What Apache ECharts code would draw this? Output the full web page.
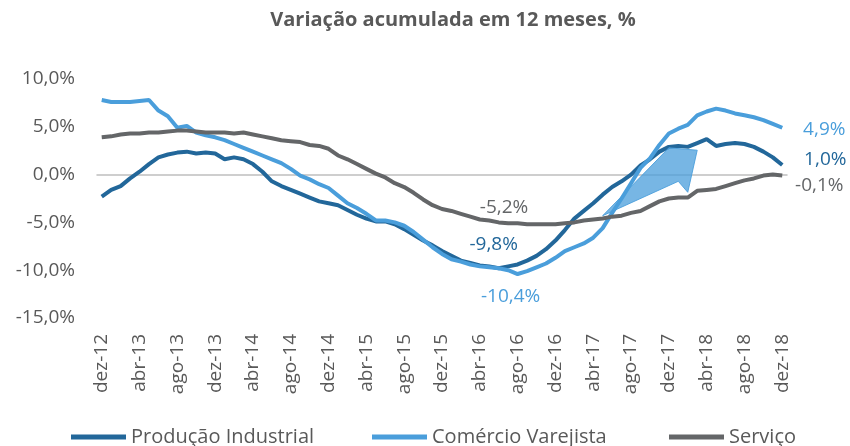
<!DOCTYPE html>
<html>
<head>
<meta charset="utf-8">
<script src="https://cdn.jsdelivr.net/npm/echarts@6/dist/echarts.min.js"></script>
<style>
  html, body { margin: 0; padding: 0; background: #fff; }
  #chart { width: 850px; height: 446px; }
</style>
</head>
<body>
<div id="chart"></div>
<script>
// meses de dez-12 a dez-18
var mesesNomes = ['jan','fev','mar','abr','mai','jun','jul','ago','set','out','nov','dez'];
var meses = ['dez-12'];
for (var a = 13; a <= 18; a++) {
  for (var m = 0; m < 12; m++) meses.push(mesesNomes[m] + '-' + a);
}

var producaoIndustrial = [
  -2.3,-1.6,-1.2,-0.4,0.3,1.1,1.8,2.1,2.3,2.4,2.2,2.3,
  2.2,1.6,1.8,1.6,1.1,0.3,-0.7,-1.2,-1.6,-2.0,-2.4,-2.8,
  -3.0,-3.2,-3.7,-4.2,-4.6,-4.9,-4.9,-5.2,-5.7,-6.3,-6.9,-7.4,
  -8.0,-8.5,-9.0,-9.25,-9.5,-9.6,-9.8,-9.6,-9.4,-9.0,-8.5,-7.8,
  -6.9,-5.8,-4.6,-3.8,-3.0,-2.1,-1.3,-0.7,0.0,0.95,1.6,2.4,
  2.9,3.0,2.9,3.3,3.7,3.0,3.2,3.3,3.2,2.9,2.4,1.8,
  1.0
];
var comercioVarejista = [
  7.8,7.6,7.6,7.6,7.7,7.8,6.7,6.1,4.9,5.1,4.4,4.1,
  3.9,3.6,3.2,2.8,2.4,2.0,1.6,1.2,0.6,-0.1,-0.5,-1.0,
  -1.4,-2.2,-3.0,-3.5,-4.1,-4.8,-4.8,-5.0,-5.35,-6.0,-6.8,-7.6,
  -8.3,-8.85,-9.1,-9.4,-9.6,-9.7,-9.8,-10.0,-10.4,-10.1,-9.7,-9.3,
  -8.7,-8.0,-7.6,-7.2,-6.6,-5.6,-4.0,-2.5,-0.9,0.7,1.7,3.1,
  4.3,4.8,5.2,6.2,6.6,6.9,6.7,6.4,6.2,6.0,5.7,5.3,
  4.9
];
var servico = [
  3.9,4.0,4.2,4.3,4.3,4.4,4.4,4.5,4.6,4.6,4.5,4.4,
  4.4,4.4,4.3,4.4,4.2,4.0,3.8,3.6,3.5,3.4,3.1,3.0,
  2.7,2.0,1.6,1.1,0.6,0.1,-0.3,-0.9,-1.3,-1.9,-2.6,-3.2,
  -3.6,-3.8,-4.1,-4.4,-4.7,-4.8,-5.0,-5.1,-5.1,-5.2,-5.2,-5.2,
  -5.2,-5.1,-5.0,-4.8,-4.7,-4.6,-4.4,-4.3,-4.0,-3.8,-3.3,-2.8,
  -2.5,-2.4,-2.4,-1.7,-1.6,-1.5,-1.2,-0.9,-0.6,-0.4,-0.1,0.0,
  -0.1
];

// seta decorativa (indice do mes, valor)
var seta = [[53.4,-4.3],[59.8,2.8],[63.2,2.55],[62.1,-1.85],[61.2,-0.7]];

var fonte = '"Open Sans", "Noto Sans", sans-serif';
var cinzaTexto = '#595959';
var corIndustrial = '#22679A';
var corComercio = '#4A9EDB';
var corServico = '#646668';

function fmt(v) {
  return v.toFixed(1).replace('.', ',') + '%';
}

// monta os dados colocando rotulo no minimo e no ultimo ponto
function comRotulos(valores, cor, offMin, offFim) {
  var iMin = valores.indexOf(Math.min.apply(null, valores));
  var iFim = valores.length - 1;
  return valores.map(function (v, i) {
    if (i === iMin || i === iFim) {
      return {
        value: v,
        label: {
          show: true,
          position: 'inside',
          offset: i === iMin ? offMin : offFim,
          formatter: function (p) { return fmt(p.value); },
          color: cor,
          fontSize: 19,
          fontFamily: fonte
        }
      };
    }
    return v;
  });
}

function serie(nome, valores, cor, offMin, offFim) {
  return {
    name: nome,
    type: 'line',
    data: comRotulos(valores, cor, offMin, offFim),
    showSymbol: true,
    showAllSymbol: true,
    symbol: 'circle',
    symbolSize: 0,
    lineStyle: { color: cor, width: 4 },
    itemStyle: { color: cor },
    emphasis: { disabled: true },
    animation: false
  };
}

function legenda(nome, x) {
  return {
    left: x,
    top: 422,
    itemWidth: 55,
    itemHeight: 5,
    icon: 'rect',
    data: [nome],
    textStyle: { color: cinzaTexto, fontSize: 20, fontFamily: fonte }
  };
}

var myChart = echarts.init(document.getElementById('chart'));

var option = {
  backgroundColor: '#fff',
  title: {
    text: 'Variação acumulada em 12 meses, %',
    left: 448,
    textAlign: 'center',
    top: 5,
    textStyle: { color: cinzaTexto, fontSize: 20, fontWeight: 'bold', fontFamily: fonte }
  },
  legend: [
    legenda('Produção Industrial', 66),
    legenda('Comércio Varejista', 367),
    legenda('Serviço', 664)
  ],
  grid: { left: 97, right: 63, top: 79, bottom: 128, containLabel: false },
  xAxis: [
    {
      type: 'category',
      data: meses,
      boundaryGap: true,
      axisLine: { show: false, onZero: false },
      axisTick: { show: false },
      axisLabel: {
        interval: 3,
        rotate: 90,
        margin: 16,
        color: cinzaTexto,
        fontSize: 19,
        fontFamily: fonte
      }
    },
    {
      type: 'category',
      data: meses,
      boundaryGap: true,
      position: 'bottom',
      axisLine: { show: true, onZero: true, lineStyle: { color: '#BFBFBF', width: 1.5 } },
      axisTick: { show: false },
      axisLabel: { show: false }
    }
  ],
  yAxis: {
    type: 'value',
    min: -15,
    max: 10,
    interval: 5,
    axisLine: { show: false },
    axisTick: { show: false },
    splitLine: { show: false },
    axisLabel: {
      margin: 22,
      color: cinzaTexto,
      fontSize: 19,
      fontFamily: fonte,
      formatter: fmt
    }
  },
  series: [
    serie('Produção Industrial', producaoIndustrial, corIndustrial, [-5, -24], [43, -5]),
    serie('Comércio Varejista', comercioVarejista, corComercio, [-7, 23], [42, 2]),
    serie('Serviço', servico, corServico, [-23, -17], [37, 10])
  ]
};

myChart.setOption(option);

// seta em coordenadas do grafico
var pontosSeta = seta.map(function (p) {
  return myChart.convertToPixel({ gridIndex: 0 }, p);
});
myChart.setOption({
  graphic: [{
    type: 'polygon',
    z: 100,
    shape: { points: pontosSeta },
    style: { fill: 'rgba(74,158,219,0.75)', stroke: 'rgba(74,158,219,0.9)', lineWidth: 1 }
  }]
});
</script>
</body>
</html>
